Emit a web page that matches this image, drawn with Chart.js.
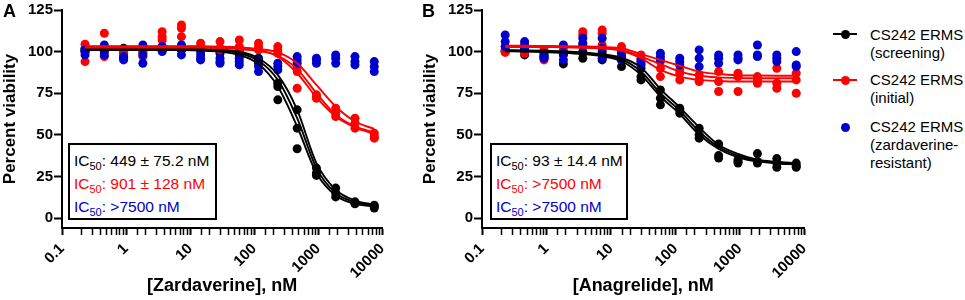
<!DOCTYPE html>
<html>
<head>
<meta charset="utf-8">
<script src="https://cdn.jsdelivr.net/npm/chart.js@4"></script>
<style>
body { margin: 0; background: #fff; font-family: "Liberation Sans", Arial, sans-serif; }
#wrap { position: relative; width: 965px; height: 300px; overflow: hidden; }
canvas { position: absolute; top: 0; }
.tag { position: absolute; top: 1px; font-size: 18px; font-weight: bold; line-height: 20px; }
.ic { position: absolute; top: 143px; height: 77px; border: 2px solid #000; background: #fff; box-sizing: border-box;
      font-size: 15.5px; line-height: 21px; padding: 5px 0 0 4px; white-space: nowrap; }
.ic .s { font-size: 11px; position: relative; top: 4px; }
.lg { position: absolute; left: 870px; font-size: 15px; line-height: 18px; color: #000; }
.ln { position: absolute; left: 833px; width: 24px; height: 2px; }
.dot { position: absolute; left: 841px; width: 9px; height: 9px; border-radius: 50%; }
</style>
</head>
<body>
<div id="wrap">
  <canvas id="chartA" width="400" height="300" style="left:0"></canvas>
  <canvas id="chartB" width="402" height="300" style="left:420px"></canvas>
  <div class="tag" style="left:3px">A</div>
  <div class="tag" style="left:422px">B</div>

  <div class="ic" style="left:68px; width:149px">
    <div style="color:#000">IC<span class="s">50</span>: 449 ± 75.2 nM</div>
    <div style="color:#ff0000">IC<span class="s">50</span>: 901 ± 128 nM</div>
    <div style="color:#0000cc">IC<span class="s">50</span>: &gt;7500 nM</div>
  </div>
  <div class="ic" style="left:490px; width:138px">
    <div style="color:#000">IC<span class="s">50</span>: 93 ± 14.4 nM</div>
    <div style="color:#ff0000">IC<span class="s">50</span>: &gt;7500 nM</div>
    <div style="color:#0000cc">IC<span class="s">50</span>: &gt;7500 nM</div>
  </div>

  <div class="ln" style="top:33px; background:#000"></div>
  <div class="dot" style="top:29.5px; background:#000"></div>
  <div class="lg" style="top:26px">CS242 ERMS<br>(screening)</div>
  <div class="ln" style="top:79px; background:#ff0000"></div>
  <div class="dot" style="top:75.5px; background:#ff0000"></div>
  <div class="lg" style="top:71px">CS242 ERMS<br>(initial)</div>
  <div class="dot" style="top:122.5px; background:#0000cc"></div>
  <div class="lg" style="top:118px">CS242 ERMS<br>(zardaverine-<br>resistant)</div>
</div>
<script>
// concentrations (nM), 2-fold dilution from 7500
const conc = [0.229, 0.458, 0.916, 1.83, 3.66, 7.32, 14.6, 29.3, 58.6, 117, 234, 469, 938, 1875, 3750, 7500];
const yTicks = [0, 25, 50, 75, 100, 125];
const xTickLabels = ['0.1', '1', '10', '100', '1000', '10000'];
const black = '#000000', red = '#ff0000', blue = '#0000cc';

// A: zardaverine, three replicates each
const aScreening = [
    [101, 102, 101, 100, 103, 102, 101, 100, 100, 96, 81, 65, 30, 18, 9.7, 7.7],
    [102, 101, 100, 101, 102, 103, 100, 101, 99, 95, 79, 54, 27, 15, 9, 7],
    [100, 101, 102, 102, 101, 101, 102, 99, 98, 93, 71, 41.6, 25.6, 12.7, 8.5, 6]
];
const aInitial = [
    [104.4, 111, 100, 99, 112, 116, 105, 106, 107, 105, 103, 91, 74, 66, 60, 51],
    [94, 97, 98, 97, 109, 114, 103, 102, 103, 103, 101, 88, 73, 63, 57, 49],
    [101, 102, 99, 101, 107, 109, 101, 101, 102, 101, 99, 78, 72, 61, 54, 48]
];
const aResistant = [
    [101, 104, 97, 104, 103, 104, 98, 96, 96, 95, 93, 97, 96, 98, 97, 94],
    [98, 100, 95, 98, 101, 101, 96, 94, 94, 91, 91, 95, 95, 96, 94, 91],
    [100, 98, 96, 93, 100, 98, 95, 93, 92, 88, 89, 93, 93, 93, 92, 88]
];
const aScreeningFit = [
    [101.5, 101.5, 101.5, 101.5, 101.5, 101.4, 101.2, 100.6, 99, 94.5, 83, 60, 30, 15, 9.5, 7.5],
    [101, 101, 101, 101, 101, 100.9, 100.6, 100, 98, 92.5, 79, 55, 27, 13.5, 8.5, 7],
    [102, 102, 102, 102, 102, 101.9, 101.7, 101.2, 100, 96, 86, 65, 33, 17, 10.5, 8]
];
const aInitialFit = [
    [103, 103, 103, 103, 103, 103, 102.9, 102.7, 102.3, 101.5, 99.5, 93, 80, 67, 58, 53.5],
    [102.5, 102.5, 102.5, 102.5, 102.5, 102.5, 102.4, 102.1, 101.5, 100.3, 97.5, 89.5, 75, 62, 55, 51.5],
    [103.3, 103.3, 103.3, 103.3, 103.3, 103.3, 103.2, 103, 102.6, 101, 97, 87, 72.5, 61, 54.5, 50.5]
];

// B: anagrelide
const bScreening = [
    [101, 98, 100, 92.6, 96, 95, 91, 83, 77, 66, 54, 44.5, 33, 38.7, 35.7, 33],
    [100, 100, 98, 99, 99, 98, 95, 85, 72, 65, 50, 37.5, 34, 34, 33, 31.5],
    [100, 101, 97, 98, 100, 100, 97, 90, 68, 63, 48, 36, 35, 33, 30.5, 30.5]
];
const bInitial = [
    [103, 100, 101, 103, 112, 113, 103, 98, 94, 83, 86, 88, 87, 85, 90, 87],
    [101, 99, 95, 101, 110, 111, 101, 96, 90, 87, 83, 82, 85, 83, 81, 83],
    [99.5, 101, 96, 100, 104, 104, 100, 93, 85, 89, 82, 76, 76, 81, 78, 75]
];
const bResistant = [
    [110, 106, 99, 104, 108, 108, 99, 95, 99, 96, 101, 98, 98, 104, 98, 100],
    [106, 104, 97, 99, 105, 102, 97, 94, 97, 94, 96, 96, 96, 98, 96, 92],
    [103, 102, 96, 95, 103, 96, 95, 92, 95, 92, 91, 93, 95, 97, 94, 91]
];
const bScreeningFit = [
    [100.8, 100.7, 100.5, 100.1, 99.5, 98.4, 96.3, 90.5, 77.5, 66.5, 54.5, 44, 38.5, 35, 33.8, 33],
    [100.2, 100.1, 99.8, 99.3, 98.5, 97.2, 94.2, 86, 73, 62.5, 50, 41.5, 36.5, 34, 32.8, 32.3],
    [100.5, 100.4, 100.2, 99.7, 99, 97.8, 95.3, 88, 75, 64.5, 52, 42.7, 37.5, 34.5, 33.3, 32.6]
];
const bInitialFit = [
    [103.5, 103.5, 103.4, 103.3, 103.1, 102.8, 102, 98.5, 95, 91.5, 88, 86.5, 85.8, 85.6, 85.5, 85.5],
    [102.8, 102.8, 102.7, 102.6, 102.4, 102, 101, 97, 92.5, 88, 85.5, 84.5, 84.1, 84, 84, 84],
    [103, 103, 102.9, 102.8, 102.5, 102, 100.5, 96, 89, 85, 83, 82.3, 82, 82, 82, 82]
];

Chart.defaults.font.family = '"Liberation Sans", Arial, sans-serif';
Chart.defaults.color = '#000';

function points(rows, color) {
    const data = [];
    rows.forEach(r => r.forEach((v, i) => data.push({ x: conc[i], y: v })));
    return { type: 'scatter', data: data, showLine: false, pointRadius: 4.5, pointHoverRadius: 4.5,
             pointBorderWidth: 0, backgroundColor: color, borderColor: color };
}

function fit(row, color) {
    return { type: 'line', data: row.map((v, i) => ({ x: conc[i], y: v })), borderColor: color,
             borderWidth: 1.9, pointRadius: 0, fill: false, cubicInterpolationMode: 'monotone' };
}

function isDecade(v) {
    const e = Math.log10(v);
    return Math.abs(e - Math.round(e)) < 1e-6;
}

function makePanel(id, xTitle, scr, ini, res, scrFit, iniFit) {
    // first datasets are drawn on top
    const datasets = [];
    iniFit.forEach(r => datasets.push(fit(r, red)));
    scrFit.forEach(r => datasets.push(fit(r, black)));
    datasets.push(points(res, blue));
    datasets.push(points(ini, red));
    datasets.push(points(scr, black));

    new Chart(document.getElementById(id), {
        type: 'scatter',
        data: { datasets: datasets },
        options: {
            responsive: false,
            animation: false,
            layout: { padding: { top: 8, right: 10, left: 0, bottom: 0 } },
            plugins: { legend: { display: false }, tooltip: { enabled: false } },
            scales: {
                x: {
                    type: 'logarithmic', min: 0.1, max: 10000,
                    border: { color: '#000', width: 2 },
                    grid: { drawOnChartArea: false, tickLength: 7, color: '#000',
                            tickWidth: ctx => (ctx.tick && isDecade(ctx.tick.value)) ? 2 : 1.5 },
                    ticks: {
                        autoSkip: false, minRotation: 45, maxRotation: 45, padding: 5,
                        font: { size: 15, weight: 'bold' },
                        callback: v => isDecade(v) ? xTickLabels[Math.round(Math.log10(v)) + 1] : ''
                    },
                    title: { display: true, text: xTitle, font: { size: 18, weight: 'bold' }, padding: { top: 0, bottom: 3 } },
                    afterFit: s => { s.height = 72; }
                },
                y: {
                    min: -6, max: 125,
                    afterBuildTicks: s => { s.ticks = yTicks.map(v => ({ value: v })); },
                    border: { color: '#000', width: 2 },
                    grid: { drawOnChartArea: false, tickLength: 8, color: '#000', tickWidth: 2 },
                    ticks: { padding: 1, font: { size: 15, weight: 'bold' } },
                    title: { display: true, text: 'Percent viability', font: { size: 17, weight: 'bold' }, padding: { top: 0, bottom: 0 } },
                    afterFit: s => { s.width = 62; }
                }
            }
        }
    });
}

makePanel('chartA', '[Zardaverine], nM', aScreening, aInitial, aResistant, aScreeningFit, aInitialFit);
makePanel('chartB', '[Anagrelide], nM', bScreening, bInitial, bResistant, bScreeningFit, bInitialFit);
</script>
</body>
</html>
